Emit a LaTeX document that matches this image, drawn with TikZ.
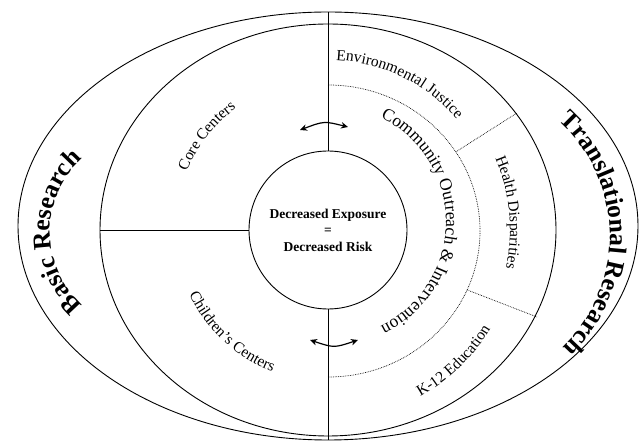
\documentclass[tikz,border=0pt]{standalone}
\usepackage{fontspec}
\setmainfont{Liberation Serif}
\usetikzlibrary{arrows.meta,decorations.text}
\newcommand\hubfont{\bfseries\fontsize{13.5}{16.5}\selectfont}
\newcommand\zonefont{\fontsize{15.5}{15.5}\selectfont}
\newcommand\loopfont{\fontsize{17.5}{17.5}\selectfont}
\newcommand\rimfont{\bfseries\fontsize{25.5}{25.5}\selectfont}
\tikzset{
  ring/.style={line width=0.9pt},
  sep/.style={densely dotted, line width=0.7pt},
  swap/.style={{Stealth[length=7pt,width=6.5pt]}-{Stealth[length=7pt,width=6.5pt]}, line width=1.2pt},
  arctext/.style={decoration={text along path, text align=center, text={#1}}, decorate}
}
\begin{document}
\begin{tikzpicture}[x=1pt,y=1pt]
\useasboundingbox (0,0) rectangle (640,444);
%Shape: Ellipse [outer ring]
\draw[ring] (328,218) ellipse [x radius=310, y radius=214];
%Shape: Ellipse [inner ring]
\draw[ring] (328,214) ellipse [x radius=228, y radius=206];
%Shape: Circle [hub]
\node[circle, draw, ring, minimum size=158, inner sep=0pt, align=center, font=\hubfont] (hub) at (328,214) {Decreased Exposure\\=\\Decreased Risk};

%Straight Lines [cuts]
\coordinate (ntop) at (328,432);
\coordinate (nbot) at (328,4);
\coordinate (wcut) at (100,214);
\draw[ring] (hub.north) -- (ntop);
\draw[ring] (hub.south) -- (nbot);
\draw[ring] (hub.west) -- (wcut);

%Dotted half ring
\draw[sep] (328,359) arc[start angle=90, end angle=-90, x radius=152, y radius=146];
\coordinate (hd1) at ([shift={(328,213)}]32.8:152 and 146);
\coordinate (hd2) at ([shift={(328,213)}]-23.8:152 and 146);
\coordinate (he1) at (517,331);
\coordinate (he2) at (537,127);
\draw[sep] (hd1) -- (he1);
\draw[sep] (hd2) -- (he2);

%Curved arrows
\coordinate (nl) at (300,314);
\coordinate (nr) at (348,317);
\draw[swap] (nl) .. controls (324,323) .. (nr);
\coordinate (sl) at (310,104);
\coordinate (sr) at (358,104);
\draw[swap] (sl) .. controls (334,96) .. (sr);

% Text along arcs
\path[arctext={|\zonefont|Environmental Justice}] ([shift={(328,214)}]100:170) arc[start angle=100, end angle=28, radius=170];
\path[arctext={|\loopfont|Community Outreach {\&} Intervention}] ([shift={(330,222)}]75:116) arc[start angle=75, end angle=-75, radius=116];
\path[arctext={|\zonefont|Health Disparities}] ([shift={(327,214)}]30:183) arc[start angle=30, end angle=-19, radius=183];
\path[arctext={|\zonefont|K-12 Education}] ([shift={(327,214)}]-70:191) arc[start angle=-70, end angle=-22, radius=191];
\path[arctext={|\zonefont|Core Centers}] ([shift={(327,214)}]170:152) arc[start angle=170, end angle=114, radius=152];
\path[arctext={|\zonefont|Children's Centers}] ([shift={(327,214)}]195:152) arc[start angle=195, end angle=259, radius=152];
\path[arctext={|\rimfont|Basic Research}] ([shift={(148,212)}]240:98) arc[start angle=240, end angle=120, radius=98];
\path[arctext={|\rimfont|Translational Research}] ([shift={(456,208)}]60:154) arc[start angle=60, end angle=-58, radius=154];
\end{tikzpicture}
\end{document}
